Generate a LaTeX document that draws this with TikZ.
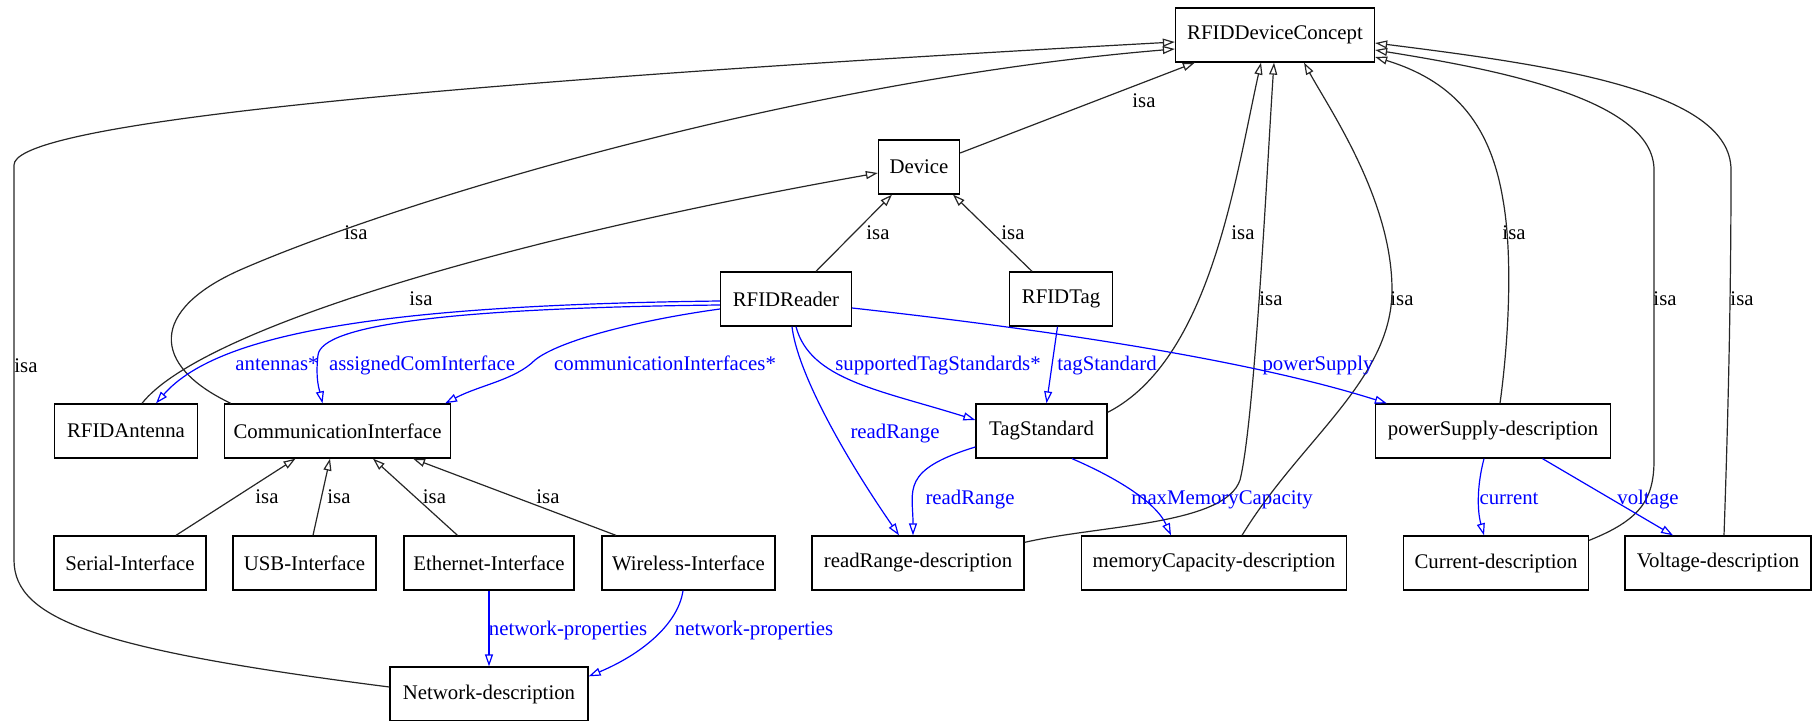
\documentclass[tikz,border=0pt]{standalone}
\usepackage{fontspec}
\setmainfont{Liberation Serif}
\usetikzlibrary{arrows.meta,calc}
\begin{document}
\begin{tikzpicture}[x=0.5pt,y=-0.5pt,
  box/.style={draw=black,line width=0.65pt,minimum height=27pt,inner sep=0pt,font=\fontsize{10.4}{12}\selectfont},
  isaedge/.style={draw=black!85,line width=0.6pt,-{Triangle[open,length=6pt,width=4pt]}},
  reledge/.style={draw=blue,line width=0.6pt,-{Triangle[open,length=6pt,width=4pt]}},
  isalbl/.style={anchor=base,inner sep=0pt,font=\fontsize{10.4}{12}\selectfont,text=black},
  rellbl/.style={anchor=base,inner sep=0pt,font=\fontsize{10.4}{12}\selectfont,text=blue}]
\useasboundingbox (0,0) rectangle (1814,721);

% nodes
\node[box,minimum width=99.5pt] (rdc) at (1275,35) {RFIDDeviceConcept};
\node[box,minimum width=40.5pt] (dev) at (919,167) {Device};
\node[box,minimum width=65.5pt] (reader) at (786,299) {RFIDReader};
\node[box,minimum width=51.5pt] (tag) at (1061,299) {RFIDTag};
\node[box,minimum width=71.5pt] (ant) at (126,431) {RFIDAntenna};
\node[box,minimum width=113pt] (ci) at (337.5,431) {CommunicationInterface};
\node[box,minimum width=65.5pt] (ts) at (1041.5,431) {TagStandard};
\node[box,minimum width=117.5pt] (psd) at (1493,431) {powerSupply-description};
\node[box,minimum width=76pt] (serial) at (130,563) {Serial-Interface};
\node[box,minimum width=71.5pt] (usb) at (304.5,563) {USB-Interface};
\node[box,minimum width=85pt] (eth) at (489,563) {Ethernet-Interface};
\node[box,minimum width=86.5pt] (wl) at (688.5,563) {Wireless-Interface};
\node[box,minimum width=106pt] (rrd) at (918,563) {readRange-description};
\node[box,minimum width=132.5pt] (mcd) at (1214,563) {memoryCapacity-description};
\node[box,minimum width=92.5pt] (cd) at (1496,563) {Current-description};
\node[box,minimum width=93pt] (vd) at (1718,563) {Voltage-description};
\node[box,minimum width=99pt] (nd) at (489,694) {Network-description};

% isa edges
\draw[isaedge] ($(dev.east)+(0,-14)$) -- ($(rdc.south west)+(20,0)$);
\draw[isaedge] ($(reader.north)+(30,0)$) -- ($(dev.south)+(-27,0)$);
\draw[isaedge] ($(tag.north)+(-29,0)$) -- ($(dev.south)+(34,0)$);
\draw[isaedge] ($(ant.north)+(16,0)$) .. controls (200,330) and (500,240) .. ($(dev.west)+(0,6)$);
\draw[isaedge] ($(ci.north west)+(7,0)$) .. controls (150,365) and (150,310) .. (240,270) .. controls (400,200) and (800,80) .. ($(rdc.west)+(0,14)$);
\draw[isaedge] ($(nd.west)+(0,-7)$) .. controls (100,650) and (14,620) .. (14,560) -- (14,165) .. controls (14,130) and (300,90) .. ($(rdc.west)+(0,7)$);
\draw[isaedge] ($(ts.north east)+(0,9)$) .. controls (1210,360) and (1235,180) .. ($(rdc.south)+(-14,0)$);
\draw[isaedge] ($(rrd.north east)+(0,7)$) .. controls (1100,525) and (1225,525) .. (1240,480) .. controls (1255,420) and (1268,150) .. ($(rdc.south)+(-1,0)$);
\draw[isaedge] ($(mcd.north)+(28,0)$) .. controls (1300,440) and (1392,380) .. (1392,290) .. controls (1392,200) and (1330,110) .. ($(rdc.south)+(29,0)$);
\draw[isaedge] ($(psd.north)+(7,0)$) .. controls (1510,330) and (1512,250) .. (1503,200) .. controls (1490,120) and (1450,80) .. ($(rdc.east)+(0,22)$);
\draw[isaedge] ($(cd.north east)+(0,5)$) .. controls (1640,520) and (1654,500) .. (1654,460) -- (1654,170) .. controls (1654,100) and (1500,70) .. ($(rdc.east)+(0,15)$);
\draw[isaedge] ($(vd.north)+(6,0)$) .. controls (1728,420) and (1731,300) .. (1731,170) .. controls (1731,90) and (1550,65) .. ($(rdc.east)+(0,8)$);
\draw[isaedge] ($(serial.north)+(46,0)$) -- ($(ci.south)+(-42,0)$);
\draw[isaedge] ($(usb.north)+(8.5,0)$) -- ($(ci.south)+(-7.5,0)$);
\draw[isaedge] ($(eth.north)+(-31.5,0)$) -- ($(ci.south)+(35.5,0)$);
\draw[isaedge] ($(wl.north)+(-72.5,0)$) -- ($(ci.south)+(75.5,0)$);

% relation edges
\draw[reledge] ($(reader.west)+(0,2)$) .. controls (400,305) and (220,330) .. ($(ant.north)+(30,0)$);
\draw[reledge] ($(reader.west)+(0,6)$) .. controls (450,308) and (322,325) .. (318,355) .. controls (315,380) and (320,392) .. ($(ci.north)+(-15,0)$);
\draw[reledge] ($(reader.west)+(0,10)$) .. controls (640,320) and (560,340) .. (535,360) .. controls (515,380) and (480,385) .. ($(ci.north east)+(-6,0)$);
\draw[reledge] ($(reader.south)+(10,0)$) .. controls (810,380) and (880,390) .. ($(ts.west)+(0,-11)$);
\draw[reledge] ($(reader.south)+(6,0)$) .. controls (797,370) and (840,450) .. ($(rrd.north)+(-19,0)$);
\draw[reledge] ($(tag.south)+(-3.5,0)$) -- ($(ts.north)+(5,0)$);
\draw[reledge] ($(reader.east)+(0,9)$) .. controls (1050,330) and (1250,360) .. ($(psd.north west)+(12,0)$);
\draw[reledge] ($(ts.west)+(0,16)$) .. controls (900,470) and (913,490) .. ($(rrd.north)+(-5,0)$);
\draw[reledge] ($(ts.south)+(30.5,0)$) .. controls (1110,475) and (1155,500) .. ($(mcd.north)+(-43,0)$);
\draw[reledge] ($(psd.south)+(-9,0)$) .. controls (1477,485) and (1477,510) .. ($(cd.north)+(-12,0)$);
\draw[reledge] ($(psd.south)+(49.5,0)$) -- ($(vd.north)+(-45,0)$);
\draw[reledge] (eth.south) -- (nd.north);
\draw[reledge] ($(wl.south)+(-5.5,0)$) .. controls (678,625) and (640,655) .. ($(nd.north east)+(0,10)$);

% isa labels
\node[isalbl] (l1) at (1144,108) {isa};
\node[isalbl] (l2) at (878,240) {isa};
\node[isalbl] (l3) at (1013,240) {isa};
\node[isalbl] (l4) at (421,306) {isa};
\node[isalbl] (l5) at (356,240) {isa};
\node[isalbl] (l6) at (26,372) {isa};
\node[isalbl] (l7) at (1243,240) {isa};
\node[isalbl] (l8) at (1271,306) {isa};
\node[isalbl] (l9) at (1402,306) {isa};
\node[isalbl] (l10) at (1514,240) {isa};
\node[isalbl] (l11) at (1665,306) {isa};
\node[isalbl] (l12) at (1742,306) {isa};
\node[isalbl] (l13) at (267,503) {isa};
\node[isalbl] (l14) at (339,503) {isa};
\node[isalbl] (l15) at (434.5,503) {isa};
\node[isalbl] (l16) at (548,503) {isa};

% relation labels
\node[rellbl] (r1) at (277,371) {antennas*};
\node[rellbl] (r2) at (422,371) {assignedComInterface};
\node[rellbl] (r3) at (665,371) {communicationInterfaces*};
\node[rellbl] (r4) at (938,371) {supportedTagStandards*};
\node[rellbl] (r5) at (1107,371) {tagStandard};
\node[rellbl] (r6) at (1318,371) {powerSupply};
\node[rellbl] (r7) at (895,438) {readRange};
\node[rellbl] (r8) at (970,504) {readRange};
\node[rellbl] (r9) at (1222,504) {maxMemoryCapacity};
\node[rellbl] (r10) at (1509,504) {current};
\node[rellbl] (r11) at (1648,504) {voltage};
\node[rellbl] (r12) at (568,635) {network-properties};
\node[rellbl] (r13) at (754,635) {network-properties};
\end{tikzpicture}
\end{document}
